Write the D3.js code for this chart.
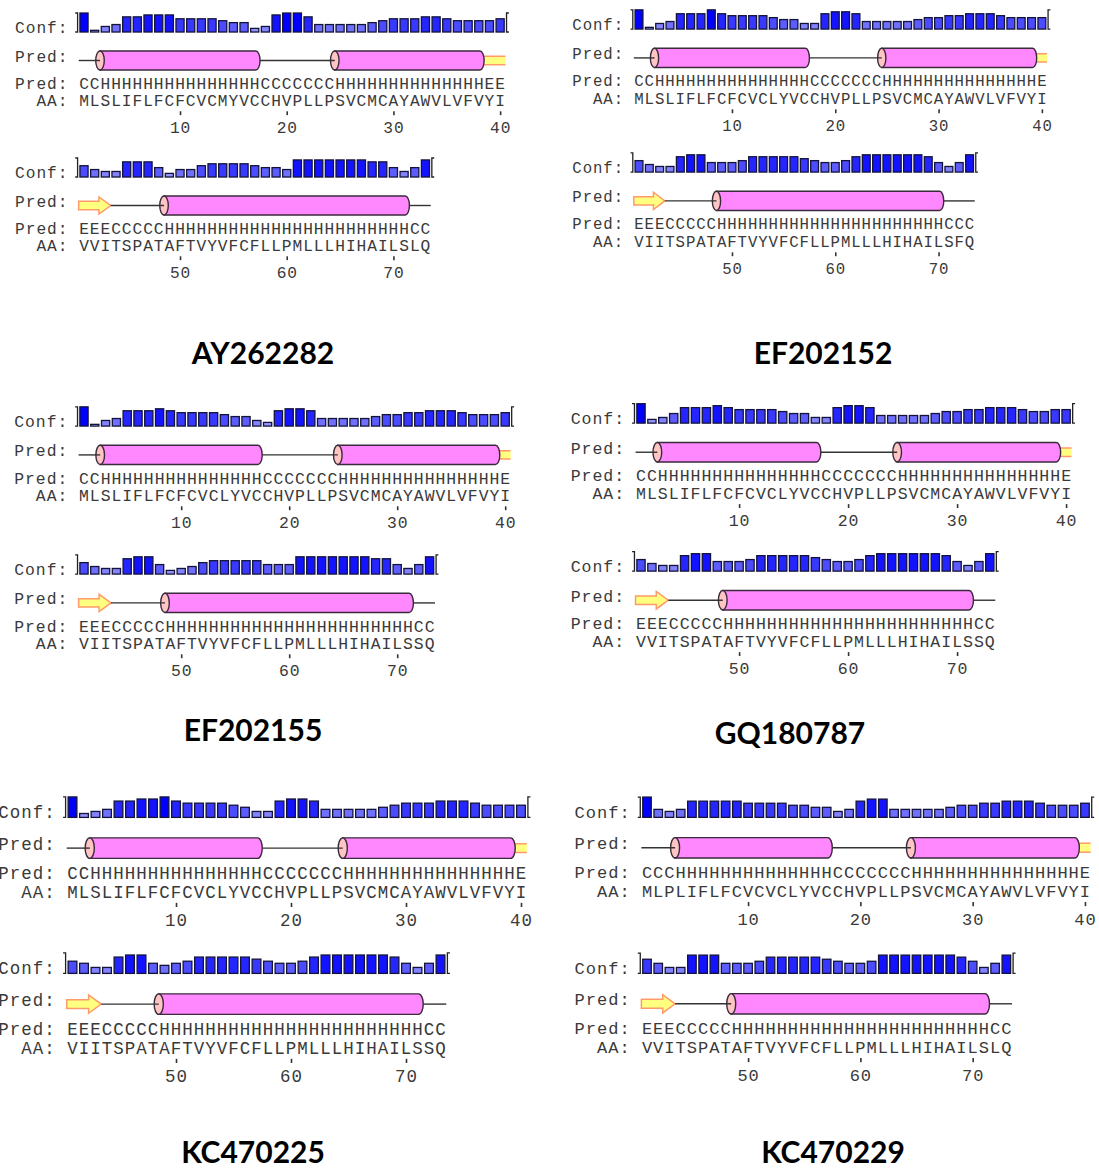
<!DOCTYPE html>
<html>
<head>
<meta charset="utf-8">
<script src="https://cdn.jsdelivr.net/npm/d3@7"></script>
<style>
  body { margin: 0; background: #fff; }
  svg { display: block; }
</style>
</head>
<body>
<div id="chart"></div>
<script>
// ---- data ----
const names = ['AY262282', 'EF202152', 'EF202155', 'GQ180787', 'KC470225', 'KC470229'];

const aaRow1 = [
  'MLSLIFLFCFCVCMYVCCHVPLLPSVCMCAYAWVLVFVYI',
  'MLSLIFLFCFCVCLYVCCHVPLLPSVCMCAYAWVLVFVYI',
  'MLSLIFLFCFCVCLYVCCHVPLLPSVCMCAYAWVLVFVYI',
  'MLSLIFLFCFCVCLYVCCHVPLLPSVCMCAYAWVLVFVYI',
  'MLSLIFLFCFCVCLYVCCHVPLLPSVCMCAYAWVLVFVYI',
  'MLPLIFLFCVCVCLYVCCHVPLLPSVCMCAYAWVLVFVYI'
];
const aaRow2 = [
  'VVITSPATAFTVYVFCFLLPMLLLHIHAILSLQ',
  'VIITSPATAFTVYVFCFLLPMLLLHIHAILSFQ',
  'VIITSPATAFTVYVFCFLLPMLLLHIHAILSSQ',
  'VVITSPATAFTVYVFCFLLPMLLLHIHAILSSQ',
  'VIITSPATAFTVYVFCFLLPMLLLHIHAILSSQ',
  'VVITSPATAFTVYVFCFLLPMLLLHIHAILSLQ'
];
const predRow1 = [
  'CCHHHHHHHHHHHHHHHCCCCCCCHHHHHHHHHHHHHHEE',
  'CCHHHHHHHHHHHHHHHCCCCCCCHHHHHHHHHHHHHHHE',
  'CCHHHHHHHHHHHHHHHCCCCCCCHHHHHHHHHHHHHHHE',
  'CCHHHHHHHHHHHHHHHCCCCCCCHHHHHHHHHHHHHHHE',
  'CCHHHHHHHHHHHHHHHCCCCCCCHHHHHHHHHHHHHHHE',
  'CCCHHHHHHHHHHHHHHCCCCCCCHHHHHHHHHHHHHHHE'
];
const predRow2 = [
  'EEECCCCCHHHHHHHHHHHHHHHHHHHHHHHCC',
  'EEECCCCCHHHHHHHHHHHHHHHHHHHHHHCCC',
  'EEECCCCCHHHHHHHHHHHHHHHHHHHHHHHCC',
  'EEECCCCCHHHHHHHHHHHHHHHHHHHHHHHCC',
  'EEECCCCCHHHHHHHHHHHHHHHHHHHHHHHCC',
  'EEECCCCCHHHHHHHHHHHHHHHHHHHHHHHCC'
];
const confRow1 = [
  [9,0,2,3,7,7,8,8,8,6,6,6,6,5,4,4,1,2,8,9,9,7,3,3,3,3,3,4,5,6,6,6,7,7,6,5,5,5,5,6],
  [9,0,2,3,7,7,7,9,7,6,6,6,6,5,4,4,2,2,7,8,8,7,3,3,3,3,3,4,5,5,6,6,7,7,7,6,5,5,5,5],
  [9,0,2,3,7,7,7,8,7,6,6,6,6,5,4,4,2,1,7,8,8,7,3,3,3,3,3,4,5,5,6,6,7,7,7,6,5,5,5,6],
  [9,1,2,4,7,7,7,8,7,6,6,6,6,5,4,4,2,2,7,8,8,7,3,3,3,3,3,4,5,5,6,6,7,7,7,6,5,5,6,6],
  [9,1,2,3,7,7,8,8,9,7,6,6,6,6,5,4,2,2,7,8,8,7,3,3,3,3,3,4,5,6,6,6,7,7,7,6,5,5,5,5],
  [9,3,2,3,7,7,7,7,7,6,6,6,6,5,5,4,4,2,3,7,8,8,3,3,3,3,3,4,5,5,6,6,7,7,7,6,5,5,5,6]
];
const confRow2 = [
  [5,3,2,2,7,7,7,4,1,3,3,5,6,6,6,6,5,4,4,3,8,8,8,8,8,8,8,7,7,4,2,4,8],
  [5,3,2,2,7,8,8,4,4,4,5,7,7,7,7,7,6,5,4,4,5,7,8,8,8,8,8,8,7,4,2,4,8],
  [5,3,2,2,7,8,8,4,1,2,3,5,6,6,6,6,6,4,4,4,8,8,8,8,8,8,8,7,7,4,2,4,8],
  [5,3,2,2,7,8,8,4,4,4,5,7,7,7,7,7,6,5,4,4,5,7,8,8,8,8,8,8,7,4,2,4,8],
  [5,4,2,2,7,8,8,4,3,4,5,7,7,7,7,7,6,5,4,4,5,7,8,8,8,8,8,8,7,4,2,4,8],
  [6,4,2,2,8,8,8,4,4,4,5,7,7,7,7,7,6,5,4,4,5,8,8,8,8,8,8,8,7,5,2,4,8]
];
const tickRow1 = [10, 20, 30, 40];
const tickRow2 = [50, 60, 70];

// ---- where each panel image sits: first residue x, residue pitch (x / y), label centre of each block, title centre ----
const layout = [
  { x1: 84,   p: 10.67, pv: 10.67, rows: [27, 172],  title: [263, 353] },
  { x1: 639,  p: 10.33, pv: 10.8,  rows: [24, 167],  title: [823, 353] },
  { x1: 84,   p: 10.8,  pv: 10.8,  rows: [421, 569], title: [253, 730] },
  { x1: 641,  p: 10.9,  pv: 10.9,  rows: [418, 566], title: [790, 733] },
  { x1: 72.5, p: 11.5,  pv: 11.5,  rows: [812, 968], title: [253, 1152] },
  { x1: 647,  p: 11.23, pv: 11.4,  rows: [812, 968], title: [833, 1152] }
];

const MONO = "'Courier New', 'Liberation Mono', monospace";
const TEXT = '#3a3a3a';
const confColor = d3.scaleLinear().domain([0, 9]).range(['#a8a8ff', '#0000ff']);

const svg = d3.select('#chart').append('svg')
  .attr('width', 1099)
  .attr('height', 1169);

// characters placed one per residue slot
function monoText(g, str, xFirst, cy, P, fs) {
  g.append('g')
    .selectAll('text')
    .data(str.split(''))
    .enter()
    .append('text')
    .attr('x', (d, i) => xFirst + i * P)
    .attr('y', cy)
    .attr('dy', '0.36em')
    .attr('text-anchor', 'middle')
    .attr('font-family', MONO)
    .attr('font-size', fs)
    .attr('fill', TEXT)
    .text(d => d);
}

function runsOf(pred, first) {
  const runs = [];
  pred.split('').forEach((t, k) => {
    const res = first + k;
    const last = runs[runs.length - 1];
    if (last && last.t === t) last.e = res;
    else runs.push({ t, s: res, e: res });
  });
  return runs;
}

function drawBlock(g, L, yc, first, pred, aa, conf, ticks) {
  const P = L.p, V = L.pv;
  const fs = 1.52 * P;
  const n = aa.length;
  const x = d3.scaleLinear().domain([first, first + 39]).range([L.x1, L.x1 + 39 * P]);
  const h = d3.scaleLinear().domain([0, 9]).range([0.16 * V, 1.78 * V]);
  const base = yc + 0.47 * V;
  const cy = yc + 3.14 * V;
  const last = first + n - 1;

  // labels
  monoText(g, 'Conf:', x(first) - 6 * P, yc, P, fs);
  monoText(g, 'Pred:', x(first) - 6 * P, yc + 2.72 * V, P, fs);
  monoText(g, 'Pred:', x(first) - 6 * P, yc + 5.25 * V, P, fs);
  monoText(g, 'AA:', x(first) - 4 * P, yc + 6.9 * V, P, fs);

  // confidence bars
  g.append('g')
    .selectAll('rect')
    .data(conf)
    .enter()
    .append('rect')
    .attr('x', (d, i) => x(first + i) - 0.38 * P)
    .attr('y', d => base - h(d))
    .attr('width', 0.76 * P)
    .attr('height', d => h(d))
    .attr('fill', d => confColor(d))
    .attr('stroke', '#14143a')
    .attr('stroke-width', 1.3);

  // brackets at both ends of the bar strip
  const top = base - h(9);
  const bl = x(first) - 0.6 * P, br = x(last) + 0.6 * P, arm = 0.22 * P;
  g.append('path')
    .attr('d', `M${bl - arm},${top}H${bl}V${base}H${bl - arm}M${br + arm},${top}H${br}V${base}H${br + arm}`)
    .attr('fill', 'none')
    .attr('stroke', '#222')
    .attr('stroke-width', 1.3);

  // secondary structure cartoon
  const runs = runsOf(pred, first);
  const ry = 0.89 * V, rx = 0.4 * P;
  const sg = g.append('g');

  runs.filter(r => r.t === 'E').forEach(r => {
    const xs = x(r.s) - 0.5 * P, xe = x(r.e) + 0.5 * P;
    const bh = 0.39 * V, hh = 0.8 * V, hl = 1.1 * P;
    if (r.e < last) {
      sg.append('path')
        .attr('d', `M${xs},${cy - bh}H${xe - hl}V${cy - hh}L${xe},${cy}L${xe - hl},${cy + hh}V${cy + bh}H${xs}Z`)
        .attr('fill', '#ffff80')
        .attr('stroke', '#ff9a6a')
        .attr('stroke-width', 1.5);
    } else {
      sg.append('rect')
        .attr('x', xs).attr('y', cy - bh)
        .attr('width', xe - xs).attr('height', 2 * bh)
        .attr('fill', '#ffff80');
      sg.append('path')
        .attr('d', `M${xs},${cy - bh}H${xe}M${xs},${cy + bh}H${xe}`)
        .attr('stroke', '#ff9a6a')
        .attr('stroke-width', 1.5);
    }
  });

  runs.filter(r => r.t === 'H').forEach(r => {
    const xs = x(r.s) - 0.5 * P, xe = x(r.e) + 0.5 * P;
    sg.append('path')
      .attr('d', `M${xs},${cy - ry}H${xe - rx}A${rx},${ry} 0 0 1 ${xe - rx},${cy + ry}H${xs}Z`)
      .attr('fill', '#ff88ff')
      .attr('stroke', '#3a2a3a')
      .attr('stroke-width', 1.4);
    sg.append('ellipse')
      .attr('cx', xs).attr('cy', cy)
      .attr('rx', rx).attr('ry', ry)
      .attr('fill', '#ffc4c4')
      .attr('stroke', '#3a2a3a')
      .attr('stroke-width', 1.4);
  });

  runs.filter(r => r.t === 'C').forEach(r => {
    sg.append('line')
      .attr('x1', x(r.s) - 0.5 * P).attr('x2', x(r.e) + 0.5 * P)
      .attr('y1', cy).attr('y2', cy)
      .attr('stroke', '#333')
      .attr('stroke-width', 1.4);
  });

  // sequences
  monoText(g, pred, x(first), yc + 5.25 * V, P, fs);
  monoText(g, aa, x(first), yc + 6.9 * V, P, fs);

  // residue number axis
  g.append('g')
    .attr('transform', `translate(0,${yc + 7.9 * V})`)
    .call(d3.axisBottom(x).tickValues(ticks).tickSize(0.36 * V).tickFormat(d3.format('d')))
    .call(a => a.select('.domain').remove())
    .call(a => a.selectAll('.tick line').attr('stroke', '#333').attr('stroke-width', 1.6))
    .call(a => a.selectAll('.tick text')
      .attr('y', 1.5 * V)
      .attr('dy', '0.36em')
      .attr('font-family', MONO)
      .attr('font-size', fs)
      .attr('letter-spacing', 0.08 * P)
      .attr('fill', TEXT));
}

names.forEach((name, i) => {
  const L = layout[i];
  const g = svg.append('g').attr('class', 'panel');
  drawBlock(g, L, L.rows[0], 1, predRow1[i], aaRow1[i], confRow1[i], tickRow1);
  drawBlock(g, L, L.rows[1], 41, predRow2[i], aaRow2[i], confRow2[i], tickRow2);

  g.append('text')
    .attr('x', L.title[0])
    .attr('y', L.title[1])
    .attr('dy', '0.36em')
    .attr('text-anchor', 'middle')
    .attr('font-family', "Lato, 'Open Sans', sans-serif")
    .attr('font-weight', 'bold')
    .attr('font-size', 30)
    .attr('fill', '#000')
    .text(name);
});
</script>
</body>
</html>
